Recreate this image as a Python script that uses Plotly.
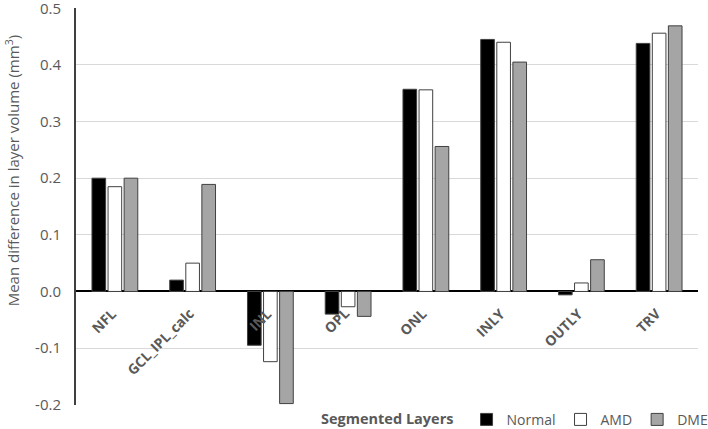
import plotly.graph_objects as go

layers = ['NFL', 'GCL_IPL_calc', 'INL', 'OPL', 'ONL', 'INLY', 'OUTLY', 'TRV']
normal = [0.200, 0.020, -0.095, -0.040, 0.357, 0.445, -0.006, 0.438]
amd = [0.185, 0.050, -0.124, -0.027, 0.356, 0.440, 0.015, 0.456]
dme = [0.200, 0.189, -0.198, -0.044, 0.256, 0.405, 0.056, 0.469]

yticks = [0.5, 0.4, 0.3, 0.2, 0.1, 0.0, -0.1, -0.2]
yticklabels = ['0.5', '0.4', '0.3', '0.2', '0.1', '0.0', '-0.1', '-0.2']

FONT = 'Open Sans'
outline = dict(color='#404040', width=1)

fig = go.Figure()
fig.add_trace(go.Bar(x=layers, y=normal, name='Normal',
                     marker=dict(color='black', line=outline)))
fig.add_trace(go.Bar(x=layers, y=amd, name='AMD',
                     marker=dict(color='white', line=outline)))
fig.add_trace(go.Bar(x=layers, y=dme, name='DME',
                     marker=dict(color='#a5a5a5', line=outline)))

# category labels sit just under the zero line, rotated like Excel
annotations = []
for lab in layers:
    annotations.append(dict(
        x=lab, y=0, xref='x', yref='y', text='<b>' + lab + '</b>',
        textangle=-45, xanchor='right', yanchor='top', showarrow=False,
        xshift=8, yshift=-10,
        font=dict(family=FONT, size=14, color='#595959')))

annotations.append(dict(
    x=0.5, y=-0.006, xref='paper', yref='paper', text='<b>Segmented Layers</b>',
    showarrow=False, xanchor='center', yanchor='top',
    font=dict(family=FONT, size=14.5, color='#595959')))

annotations.append(dict(
    x=-0.102, y=0.59, xref='paper', yref='paper',
    text='Mean difference in layer volume (mm<sup>3</sup>)',
    textangle=-90, showarrow=False, xanchor='center', yanchor='middle',
    font=dict(family=FONT, size=15, color='#595959')))

fig.update_layout(
    width=708, height=429,
    margin=dict(l=76, r=10, t=8, b=24, autoexpand=False),
    paper_bgcolor='white', plot_bgcolor='white',
    barmode='group', bargap=0.38, bargroupgap=0.15,
    font=dict(family=FONT, size=15, color='#595959'),
    showlegend=True,
    legend=dict(orientation='h', x=1.025, xanchor='right', y=0.003, yanchor='top',
                font=dict(family=FONT, size=14, color='#595959'),
                itemwidth=30, traceorder='normal', tracegroupgap=0,
                bgcolor='rgba(0,0,0,0)'),
    annotations=annotations,
)
fig.update_xaxes(showticklabels=False, showgrid=False, zeroline=False,
                 showline=False, ticks='', automargin=False)
fig.update_yaxes(range=[-0.2005, 0.5005], tickvals=yticks, ticktext=yticklabels,
                 showgrid=True, gridcolor='#d9d9d9', gridwidth=1,
                 zeroline=True, zerolinecolor='black', zerolinewidth=1.5,
                 showline=True, linecolor='#404040', linewidth=2,
                 ticks='', ticklabelstandoff=10, automargin=False,
                 ticklabeloverflow='allow',
                 tickfont=dict(family=FONT, size=15, color='#595959'))

# the page body has a default 8px margin; drop it so the figure fills the window
fig.write_html('out.html', config={'displayModeBar': False},
               post_script="document.body.style.margin='0';")
